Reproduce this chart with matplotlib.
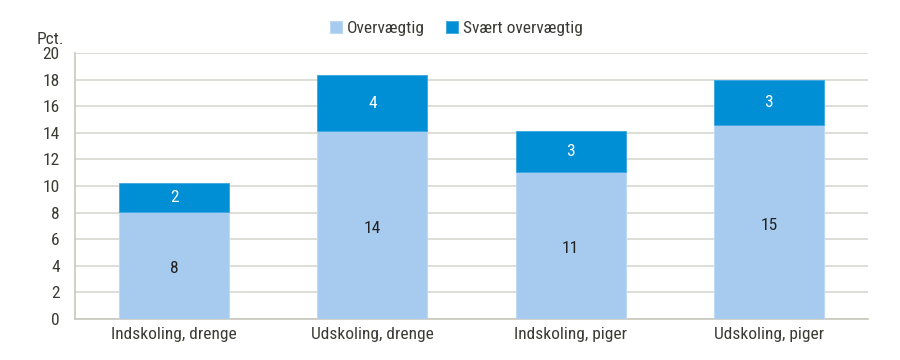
import matplotlib
matplotlib.use("Agg")
import matplotlib.pyplot as plt
import numpy as np

categories = ["Indskoling, drenge", "Udskoling, drenge", "Indskoling, piger", "Udskoling, piger"]
overvaegtig = [8.05, 14.13, 11.05, 14.59]
svaert = [2.18, 4.22, 3.08, 3.38]
series_names = ["Overvægtig", "Svært overvægtig"]
yticks = [0, 2, 4, 6, 8, 10, 12, 14, 16, 18, 20]

plt.rcParams['font.family'] = ['Liberation Sans Narrow', 'Roboto Condensed', 'DejaVu Sans']
txt = '#3b3b35'
light = '#a7cbee'
dark = '#008fd5'
fs = 12.5

fig = plt.figure(figsize=(9, 3.6), dpi=100)
ax = fig.add_axes([0.0833, 0.1139, 0.8811, 0.7389])
x = np.arange(len(categories))
w = 0.555
b1 = ax.bar(x, overvaegtig, w, color=light, edgecolor='#bcdaf5', linewidth=0.8, label=series_names[0], zorder=3)
b2 = ax.bar(x, svaert, w, bottom=overvaegtig, color=dark, edgecolor='#3aa6e0', linewidth=0.6, label=series_names[1], zorder=3)

for i in range(len(categories)):
    ax.text(x[i], overvaegtig[i] / 2 - 0.25, f"{round(overvaegtig[i])}", ha='center', va='center',
            fontsize=fs, color='#222222', zorder=4)
    ax.text(x[i], overvaegtig[i] + svaert[i] / 2, f"{round(svaert[i])}", ha='center', va='center',
            fontsize=fs, color='white', zorder=4)

ax.set_xlim(-0.5, len(categories) - 0.5)
ax.set_ylim(0, 20)
ax.set_yticks(yticks)
ax.set_yticklabels([str(t) for t in yticks], fontsize=fs, color=txt)
ax.set_xticks(x)
ax.set_xticklabels(categories, fontsize=fs, color=txt)
ax.tick_params(axis='both', length=0, pad=6)
ax.tick_params(axis='y', pad=11)
ax.grid(axis='y', color='#d8d8d2', linewidth=1.2, zorder=0)
for s in ['top', 'right']:
    ax.spines[s].set_visible(False)
for s in ['left', 'bottom']:
    ax.spines[s].set_color('#c8c8c0')
    ax.spines[s].set_linewidth(1.2)

fig.text(0.041, 0.89, "Pct.", fontsize=fs, color=txt, ha='left', va='center')

leg = fig.legend(handles=[b1, b2], labels=series_names, loc='center', bbox_to_anchor=(0.507, 0.92),
                 ncol=2, frameon=False, fontsize=fs, handlelength=0.7, handleheight=0.7,
                 handletextpad=0.3, columnspacing=1.2)
for t in leg.get_texts():
    t.set_color(txt)

fig.savefig("out.png", dpi=100)
